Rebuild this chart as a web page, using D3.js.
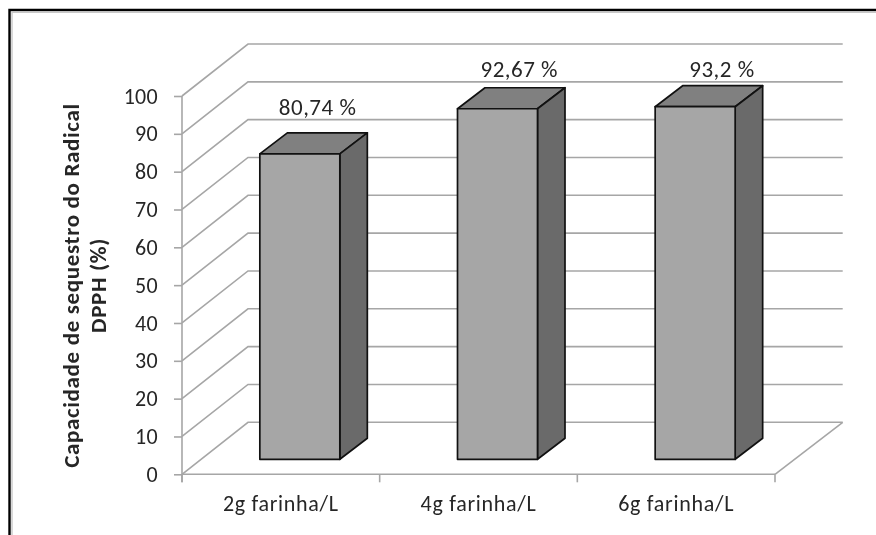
<!DOCTYPE html>
<html><head><meta charset="utf-8">
<script src="https://cdn.jsdelivr.net/npm/d3@7"></script>
<style>html,body{margin:0;padding:0;background:#fff}svg{display:block;filter:blur(0.35px)}text{font-family:Carlito,Lato,"Open Sans",sans-serif;fill:#262626}</style>
</head><body><svg id="c" width="876" height="535"></svg>
<script>
const categories = ["2g farinha/L","4g farinha/L","6g farinha/L"];
const values = [80.74,92.67,93.2];
const valueLabels = ["80,74 %","92,67 %","93,2 %"];
const yTicks = [0,10,20,30,40,50,60,70,80,90,100];
const axisTitle = ["Capacidade de sequestro do Radical","DPPH (%)"];

const svg = d3.select("#c");
const x = d3.scaleBand().domain(categories).range([182,775]);
const y = d3.scaleLinear().domain([0,100]).range([474.3,96]);
const depth = {dx:66,dy:52}, barDepth = {dx:27.5,dy:21}, barOff = {dx:19,dy:15}, barW = 80;
const labelNudge = [{dx:4,dy:17.5},{dx:8,dy:10.7},{dx:13,dy:8.6}];
const grid = "#a6a6a6";

// frame
svg.append("path").attr("d","M9.5 535V10H876").attr("fill","none").attr("stroke","#000").attr("stroke-width",2.4);
svg.append("path").attr("d","M12 535V12.4H876").attr("fill","none").attr("stroke","#c8c8c8").attr("stroke-width",1.4);

// walls
const g = svg.append("g").attr("fill","none").attr("stroke",grid).attr("stroke-width",1.6);
yTicks.forEach(t=>{
  const p = d3.path();
  p.moveTo(x.range()[0],y(t));
  p.lineTo(x.range()[0]+depth.dx,y(t)-depth.dy);
  p.lineTo(x.range()[1]+depth.dx+1.7,y(t)-depth.dy);
  g.append("path").attr("d",p.toString());
});
const floor = d3.path();
floor.moveTo(x.range()[1]+depth.dx+1.7,y(0)-depth.dy);
floor.lineTo(x.range()[1],y(0));
g.append("path").attr("d",floor.toString());

// axes
const ax = svg.append("g").attr("transform",`translate(${x.range()[0]},0)`).call(d3.axisLeft(y).tickValues(yTicks).tickSize(8).tickPadding(16).tickFormat(d3.format("d")));
const bx = svg.append("g").attr("transform",`translate(0,${y(0)})`).call(d3.axisBottom(x).tickSize(0).tickPadding(21));
[ax,bx].forEach(a=>{a.selectAll(".domain,line").attr("stroke",grid).attr("stroke-width",1.6);a.selectAll("text").style("font-size","22px").attr("fill","#262626");});
ax.selectAll("text").style("letter-spacing","0.3px");
bx.selectAll("text").style("letter-spacing","0.7px");
ax.select(".domain").attr("d",`M0 ${y(100)}V${y(0)+8}`);
bx.select(".domain").attr("d",`M${x.range()[0]} 0H${x.range()[1]}`);
[x.range()[0],...categories.map(c=>x(c)+x.bandwidth())].forEach(v=>{
  svg.append("line").attr("x1",v).attr("x2",v).attr("y1",y(0)).attr("y2",y(0)+8).attr("stroke",grid).attr("stroke-width",1.6);
});

// bars
const bars = svg.append("g").attr("stroke","#111").attr("stroke-width",1.7).attr("stroke-linejoin","round");
categories.forEach((c,i)=>{
  const l = x(c)+x.bandwidth()/2+barOff.dx-barW/2, r = l+barW;
  const b = y(0)-barOff.dy, t = y(values[i])-barOff.dy;
  const dx = barDepth.dx, dy = barDepth.dy;
  bars.append("path").attr("fill","#808080").attr("d",`M${l} ${t}L${l+dx} ${t-dy}H${r+dx}L${r} ${t}Z`);
  bars.append("path").attr("fill","#6a6a6a").attr("d",`M${r} ${t}L${r+dx} ${t-dy}V${b-dy}L${r} ${b}Z`);
  bars.append("rect").attr("fill","#a6a6a6").attr("x",l).attr("y",t).attr("width",barW).attr("height",b-t);
  svg.append("text").attr("x",(l+r+dx)/2+labelNudge[i].dx).attr("y",t-dy-labelNudge[i].dy).attr("text-anchor","middle").style("font-size","23px").style("letter-spacing","0.5px").text(valueLabels[i]);
});

// title
axisTitle.forEach((s,i)=>{
  svg.append("text").attr("transform",`translate(${78.5+i*27.5},285.5) rotate(-90)`).attr("text-anchor","middle").style("font-size","23px").style("letter-spacing","0.65px").style("font-weight","700").text(s);
});
</script></body></html>
